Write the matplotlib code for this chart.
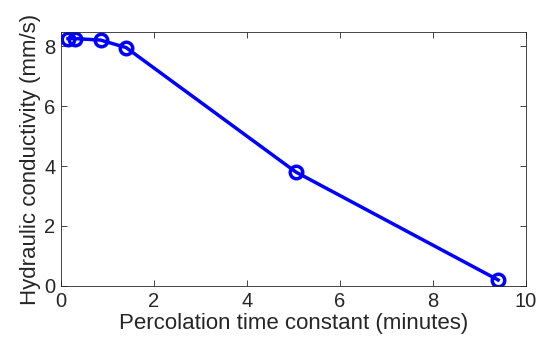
import matplotlib
matplotlib.use('Agg')
from matplotlib import pyplot as plt

# percolation time constant (minutes) vs hydraulic conductivity (mm/s)
tau = [0.15, 0.3, 0.85, 1.4, 5.05, 9.4]
conductivity = [8.25, 8.25, 8.2, 7.95, 3.8, 0.2]

plt.rcParams['font.family'] = ['Liberation Sans', 'DejaVu Sans']

fig = plt.figure(figsize=(5.41, 3.5), dpi=100)
ax = fig.add_axes([0.1128, 0.183, 0.8595, 0.7256])

ax.plot(tau, conductivity, color='#0000ff', linewidth=2.5, marker='o',
        markersize=9, markerfacecolor='none', markeredgewidth=2.5)

ax.set_xlim(0, 10)
ax.set_ylim(0, 8.47)
ax.set_xticks([0, 2, 4, 6, 8, 10])
ax.set_yticks([0, 2, 4, 6, 8])

grey = '#262626'
ax.tick_params(direction='in', length=4, width=0.6, colors=grey, pad=4,
               labelsize=14.5, top=True, right=True, labeltop=False, labelright=False)
for s in ax.spines.values():
    s.set_linewidth(0.6)
    s.set_color(grey)

ax.set_xlabel('Percolation time constant (minutes)', fontsize=16, color=grey, labelpad=2)
ax.set_ylabel('Hydraulic conductivity (mm/s)', fontsize=16, color=grey, labelpad=2)

fig.savefig('out.png', dpi=100)
